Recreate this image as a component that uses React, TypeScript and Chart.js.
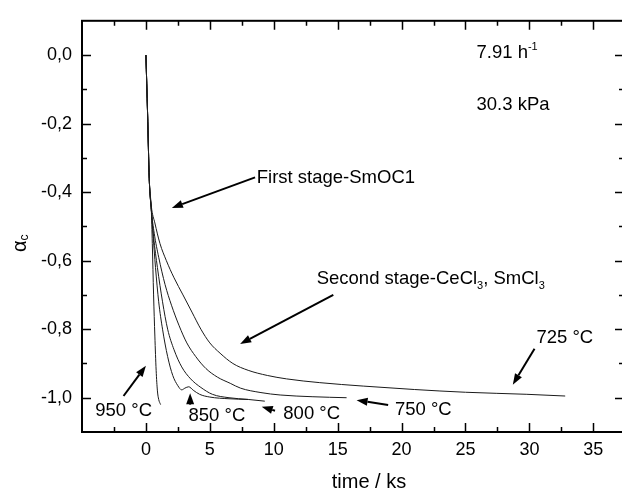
import React, { useEffect, useRef } from 'react';
import { Chart, registerables } from 'chart.js';

Chart.register(...registerables);

const FONT = "'Liberation Sans', Arial, Helvetica, sans-serif";

// time (ks) and conversion alpha_c for each temperature
const T_950 = [0, 0.13, 0.26, 0.42, 0.5, 0.6, 0.7, 0.8, 0.9, 1.0, 1.15];
const A_950 = [0, -0.17, -0.36, -0.45, -0.55, -0.7, -0.82, -0.92, -0.98, -1.005, -1.02];

const T_850 = [0, 0.13, 0.26, 0.42, 0.55, 0.75, 1.0, 1.3, 1.7, 2.1, 2.5, 2.8, 3.05, 3.35, 3.7, 4.2, 5.0, 6.5, 8.0];
const A_850 = [0, -0.17, -0.36, -0.45, -0.52, -0.62, -0.72, -0.8, -0.88, -0.935, -0.965, -0.977, -0.972, -0.968, -0.978, -0.99, -0.998, -1.003, -1.005];

const T_800 = [0, 0.13, 0.26, 0.42, 0.6, 0.9, 1.3, 1.7, 2.2, 2.8, 3.5, 4.3, 5.2, 6.5, 8.0, 9.3];
const A_800 = [0, -0.17, -0.36, -0.45, -0.53, -0.62, -0.72, -0.8, -0.86, -0.91, -0.945, -0.97, -0.99, -1.0, -1.005, -1.01];

const T_750 = [0, 0.13, 0.26, 0.42, 0.65, 1.0, 1.5, 2.0, 2.6, 3.2, 3.9, 4.7, 5.6, 6.6, 7.4, 9.0, 10.5, 13.0, 15.7];
const A_750 = [0, -0.17, -0.36, -0.45, -0.52, -0.59, -0.67, -0.73, -0.79, -0.84, -0.88, -0.915, -0.94, -0.958, -0.972, -0.985, -0.992, -0.997, -1.0];

const T_725 = [0, 0.13, 0.26, 0.42, 0.7, 1.1, 1.6, 2.2, 2.9, 3.6, 4.3, 5.0, 5.8, 6.8, 8.0, 9.5, 11.0, 13.6, 17.0, 21.0, 25.0, 29.8, 32.8];
const A_725 = [0, -0.17, -0.36, -0.44, -0.49, -0.55, -0.6, -0.65, -0.7, -0.75, -0.8, -0.84, -0.87, -0.9, -0.92, -0.935, -0.945, -0.956, -0.966, -0.976, -0.984, -0.99, -0.995];

const X_TICKS = [0, 5, 10, 15, 20, 25, 30, 35];
const Y_TICKS = [-1.0, -0.8, -0.6, -0.4, -0.2, 0.0];

const X_MIN = -5;
const X_MAX = 37.4;
const Y_MIN = -1.1;
const Y_MAX = 0.1;

type Seg = { t: string; sub?: boolean; sup?: boolean };

// text annotations (data coordinates of left edge / vertical centre)
const NOTES: { segs: Seg[]; x: number; y: number }[] = [
  { segs: [{ t: '7.91 h' }, { t: '-1', sup: true }], x: 25.86, y: 0.005 },
  { segs: [{ t: '30.3 kPa' }], x: 25.86, y: -0.144 },
  { segs: [{ t: 'First stage-SmOC1' }], x: 8.67, y: -0.358 },
  { segs: [{ t: 'Second stage-CeCl' }, { t: '3', sub: true }, { t: ', SmCl' }, { t: '3', sub: true }], x: 13.36, y: -0.652 },
  { segs: [{ t: '725 °C' }], x: 30.55, y: -0.824 },
  { segs: [{ t: '750 °C' }], x: 19.48, y: -1.035 },
  { segs: [{ t: '800 °C' }], x: 10.75, y: -1.047 },
  { segs: [{ t: '850 °C' }], x: 3.33, y: -1.052 },
  { segs: [{ t: '950 °C' }], x: -3.96, y: -1.038 },
];

// arrows: from (x1,y1) to head (x2,y2), data coordinates
const ARROWS = [
  [8.54, -0.357, 2.03, -0.446],
  [14.66, -0.7, 7.37, -0.843],
  [30.4, -0.857, 28.7, -0.962],
  [18.95, -1.021, 16.48, -1.007],
  [10.1, -1.038, 9.06, -1.026],
  [3.46, -1.021, 3.46, -0.987],
  [-1.75, -0.995, 0.0, -0.907],
];

function drawRich(ctx: CanvasRenderingContext2D, segs: Seg[], x: number, y: number, size: number) {
  let cx = x;
  ctx.textBaseline = 'middle';
  ctx.textAlign = 'left';
  for (const s of segs) {
    if (s.sub) {
      ctx.font = `${Math.round(size * 0.6)}px ${FONT}`;
      ctx.fillText(s.t, cx, y + size * 0.38);
    } else if (s.sup) {
      ctx.font = `${Math.round(size * 0.6)}px ${FONT}`;
      ctx.fillText(s.t, cx, y - size * 0.35);
    } else {
      ctx.font = `${size}px ${FONT}`;
      ctx.fillText(s.t, cx, y);
    }
    cx += ctx.measureText(s.t).width;
  }
}

function drawArrow(ctx: CanvasRenderingContext2D, x1: number, y1: number, x2: number, y2: number) {
  const ang = Math.atan2(y2 - y1, x2 - x1);
  const hl = 11;
  const hw = 4;
  const bx = x2 - hl * Math.cos(ang);
  const by = y2 - hl * Math.sin(ang);
  ctx.beginPath();
  ctx.moveTo(x1, y1);
  ctx.lineTo(bx, by);
  ctx.lineWidth = 2;
  ctx.strokeStyle = '#000';
  ctx.stroke();
  ctx.beginPath();
  ctx.moveTo(x2, y2);
  ctx.lineTo(bx + hw * Math.sin(ang), by - hw * Math.cos(ang));
  ctx.lineTo(bx - hw * Math.sin(ang), by + hw * Math.cos(ang));
  ctx.closePath();
  ctx.fillStyle = '#000';
  ctx.fill();
}

const framePlugin = {
  id: 'frameAndNotes',
  afterDatasetsDraw(chart: any) {
    const { ctx, chartArea: a, scales } = chart;
    const xs = scales.x;
    const ys = scales.y;
    ctx.save();
    // frame
    ctx.strokeStyle = '#000';
    ctx.lineWidth = 2;
    ctx.strokeRect(a.left, a.top, a.right - a.left, a.bottom - a.top);
    // x ticks (inward, bottom and top)
    ctx.lineWidth = 1.5;
    for (let i = -2; i * 2.5 <= X_MAX; i++) {
      const v = i * 2.5;
      if (v <= X_MIN) continue;
      const px = Math.round(xs.getPixelForValue(v)) + 0.5;
      const len = i % 2 === 0 ? 9 : 5;
      ctx.beginPath();
      ctx.moveTo(px, a.bottom);
      ctx.lineTo(px, a.bottom - len);
      ctx.moveTo(px, a.top);
      ctx.lineTo(px, a.top + len);
      ctx.stroke();
    }
    // y ticks (inward, left and right)
    for (let i = -10; i <= 0; i++) {
      const v = i / 10;
      const py = Math.round(ys.getPixelForValue(v)) + 0.5;
      const len = i % 2 === 0 ? 9 : 5;
      ctx.beginPath();
      ctx.moveTo(a.left, py);
      ctx.lineTo(a.left + len, py);
      ctx.moveTo(a.right, py);
      ctx.lineTo(a.right - len, py);
      ctx.stroke();
    }
    // annotations
    ctx.fillStyle = '#000';
    for (const n of NOTES) {
      drawRich(ctx, n.segs, xs.getPixelForValue(n.x), ys.getPixelForValue(n.y), 18.5);
    }
    for (const ar of ARROWS) {
      drawArrow(
        ctx,
        xs.getPixelForValue(ar[0]),
        ys.getPixelForValue(ar[1]),
        xs.getPixelForValue(ar[2]),
        ys.getPixelForValue(ar[3])
      );
    }
    // axis titles
    ctx.fillStyle = '#000';
    ctx.textAlign = 'center';
    ctx.textBaseline = 'middle';
    ctx.font = `20px ${FONT}`;
    ctx.fillText('time / ks', 369, 482);
    ctx.save();
    ctx.translate(20, 243);
    ctx.rotate(-Math.PI / 2);
    ctx.textAlign = 'left';
    ctx.font = `20px ${FONT}`;
    const aw = ctx.measureText('α').width;
    ctx.fillText('α', -9, 0);
    ctx.font = `12px ${FONT}`;
    ctx.fillText('c', -9 + aw, 5);
    ctx.restore();
    ctx.restore();
  },
};

const mk = (t: number[], a: number[]) => t.map((v, i) => ({ x: v, y: a[i] }));

export default function App() {
  const ref = useRef<HTMLCanvasElement | null>(null);
  useEffect(() => {
    const canvas = ref.current;
    if (!canvas) return;
    const series = [
      mk(T_950, A_950),
      mk(T_850, A_850),
      mk(T_800, A_800),
      mk(T_750, A_750),
      mk(T_725, A_725),
    ];
    const chart = new Chart(canvas, {
      type: 'line',
      data: {
        datasets: series.map((d) => ({
          data: d,
          borderColor: '#1a1a1a',
          borderWidth: 1,
          pointRadius: 0,
          fill: false,
          cubicInterpolationMode: 'monotone' as const,
        })),
      },
      options: {
        animation: false,
        responsive: false,
        maintainAspectRatio: false,
        devicePixelRatio: 1,
        layout: { padding: { left: 0, top: 12, right: 2, bottom: 0 } },
        plugins: { legend: { display: false }, tooltip: { enabled: false } },
        scales: {
          x: {
            type: 'linear',
            min: X_MIN,
            max: X_MAX,
            grid: { display: false, drawTicks: false },
            border: { display: false },
            afterBuildTicks: (s: any) => {
              s.ticks = X_TICKS.map((v) => ({ value: v }));
            },
            afterFit: (s: any) => {
              s.height = 58;
            },
            ticks: {
              color: '#000',
              font: { family: FONT, size: 18 },
              padding: 7,
              maxRotation: 0,
              autoSkip: false,
              callback: (v: any) => String(v),
            },
          },
          y: {
            type: 'linear',
            min: Y_MIN,
            max: Y_MAX,
            grid: { display: false, drawTicks: false },
            border: { display: false },
            afterBuildTicks: (s: any) => {
              s.ticks = Y_TICKS.map((v) => ({ value: v }));
            },
            afterFit: (s: any) => {
              s.width = 82;
            },
            ticks: {
              color: '#000',
              font: { family: FONT, size: 18 },
              padding: 10,
              autoSkip: false,
              callback: (v: any) => {
                const n = Math.abs(v) < 1e-9 ? 0 : Number(v);
                return n.toFixed(1).replace('.', ',');
              },
            },
          },
        },
      },
      plugins: [framePlugin],
    });
    return () => chart.destroy();
  }, []);
  return (
    <div
      style={{
        position: 'absolute',
        left: 0,
        top: 0,
        width: 622,
        height: 490,
        overflow: 'hidden',
        background: '#fff',
      }}
    >
      <canvas ref={ref} width={626} height={490} style={{ width: 626, height: 490, display: 'block' }} />
    </div>
  );
}
